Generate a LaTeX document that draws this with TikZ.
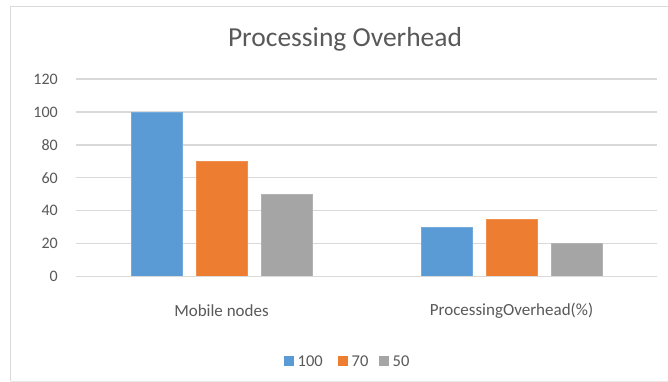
\documentclass[tikz,border=0pt]{standalone}
\usepackage{fontspec}
\setmainfont{Carlito}
\definecolor{cblue}{HTML}{5B9BD5}
\definecolor{corange}{HTML}{ED7D31}
\definecolor{cgray}{HTML}{A5A5A5}
\definecolor{ctext}{HTML}{595959}
\definecolor{cgrid}{HTML}{D9D9D9}
\begin{document}
\begin{tikzpicture}[x=1pt,y=-1pt,
  grid/.style={draw=cgrid,line width=1.3pt},
  tick/.style={anchor=east,text=ctext,font=\fontsize{16}{16}\selectfont,inner sep=0pt},
  catlbl/.style={text=ctext,font=\fontsize{17}{17}\selectfont,inner sep=0pt},
  bar/.style={line width=0.6pt},
  legsq/.style={minimum size=10pt,inner sep=0pt},
  leglbl/.style={anchor=west,text=ctext,font=\fontsize{16.5}{16.5}\selectfont,inner sep=0pt}]
\useasboundingbox (0,0) rectangle (668,382);
\fill[white] (0,0) rectangle (668,382);
% frame
\draw[cgrid,line width=1.5pt] (668,6.5) -- (10.5,6.5) -- (10.5,381);
\draw[cgrid!60,line width=0.8pt] (10.5,381) -- (668,381);
% title
\node[text=ctext,font=\fontsize{27.5}{27.5}\selectfont] (title) at (345,39) {Processing Overhead};
% grid + ticks
\foreach \v/\n in {0/t0,20/t20,40/t40,60/t60,80/t80,100/t100,120/t120}{
  \coordinate (g\n) at (76,{276.5-1.645*\v});
  \coordinate (h\n) at (657,{276.5-1.645*\v});
  \draw[grid] (g\n) -- (h\n);
  \node[tick] (\n) at (58,{276.5-1.645*\v}) {\v};
}
% bars
\newcommand{\mybar}[4]{% name, center x, value, colour
  \fill[#4,draw=#4!85!white,bar] ({#2-25.5},276.5) rectangle ({#2+25.5},{276.5-1.645*#3});
  \coordinate (#1) at (#2,{276.5-1.645*#3});
}
\mybar{a1}{156.5}{100}{cblue}
\mybar{a2}{221.5}{70}{corange}
\mybar{a3}{286.5}{50}{cgray}
\mybar{b1}{447}{30}{cblue}
\mybar{b2}{512}{35}{corange}
\mybar{b3}{577}{20}{cgray}
\draw[grid] (gt0) -- (ht0);
% category labels
\node[catlbl] (c1) at (221.5,311) {Mobile nodes};
\node[catlbl] (c2) at (511.5,311) {ProcessingOverhead(\%)};
% legend
\node[legsq,fill=cblue] (l1) at (289,361) {};
\node[leglbl] (l1t) at (297.5,361) {100};
\node[legsq,fill=corange] (l2) at (343,361) {};
\node[leglbl] (l2t) at (351.5,361) {70};
\node[legsq,fill=cgray] (l3) at (384,361) {};
\node[leglbl] (l3t) at (392.5,361) {50};
\end{tikzpicture}
\end{document}
